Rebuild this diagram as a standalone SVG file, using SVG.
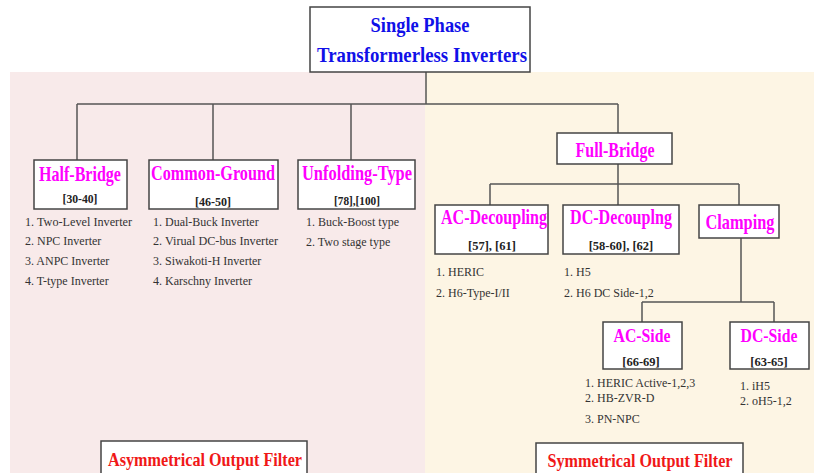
<svg xmlns="http://www.w3.org/2000/svg" width="814" height="473" viewBox="0 0 814 473">
<style>
.box{fill:#fff;stroke:#444;stroke-width:1.5}
.t{font-family:"Liberation Serif","Times New Roman",serif;font-weight:bold;fill:#f0f;font-size:21px;text-anchor:middle}
.s{font-size:19px}
.top{font-family:"Liberation Serif","Times New Roman",serif;font-weight:bold;fill:#1010e8;font-size:22px;text-anchor:middle}
.ref{font-family:"Liberation Serif","Times New Roman",serif;font-weight:bold;fill:#222;font-size:12.5px;text-anchor:middle}
.li{font-family:"Liberation Serif","Times New Roman",serif;fill:#333;font-size:12px}
.flt{font-family:"Liberation Serif","Times New Roman",serif;font-weight:bold;fill:#f01818;font-size:19px;text-anchor:middle}
.c{fill:none;stroke:#555;stroke-width:1.5}
</style>
<rect x="0" y="0" width="814" height="473" fill="#fff"/>
<rect x="10" y="72" width="415" height="401" fill="#f8eaea"/>
<rect x="425" y="72" width="389" height="401" fill="#fdf5e4"/>
<g id="connectors">
<path class="c" d="M426 72V104M77 104H618M77 104V160M213 104V160M351 104V160M618 104V133"/>
<path class="c" d="M618 164V184M490 184H739M490 184V205M618 184V205M739 184V205"/>
<path class="c" d="M741 238V302M642 302H774M642 302V322M774 302V322"/>
</g>
<g id="root">
<rect class="box" x="310" y="7" width="220" height="65"/>
<text class="top" x="420" y="32" textLength="99" lengthAdjust="spacingAndGlyphs">Single Phase</text>
<text class="top" x="422" y="62" textLength="210" lengthAdjust="spacingAndGlyphs">Transformerless Inverters</text>
</g>
<g id="half-bridge">
<rect class="box" x="34" y="160" width="93" height="49"/>
<text class="t" x="80" y="181" textLength="82" lengthAdjust="spacingAndGlyphs">Half-Bridge</text>
<text class="ref" x="80" y="203" textLength="35" lengthAdjust="spacingAndGlyphs">[30-40]</text>
<text class="li" x="25" y="226" textLength="107" lengthAdjust="spacingAndGlyphs">1. Two-Level Inverter</text>
<text class="li" x="25" y="245">2. NPC Inverter</text>
<text class="li" x="25" y="265">3. ANPC Inverter</text>
<text class="li" x="25" y="285">4. T-type Inverter</text>
</g>
<g id="common-ground">
<rect class="box" x="149" y="160" width="129" height="49"/>
<text class="t" x="213" y="180" textLength="124" lengthAdjust="spacingAndGlyphs">Common-Ground</text>
<text class="ref" x="213" y="206" textLength="36" lengthAdjust="spacingAndGlyphs">[46-50]</text>
<text class="li" x="153" y="226">1. Dual-Buck Inverter</text>
<text class="li" x="153" y="245" textLength="125" lengthAdjust="spacingAndGlyphs">2. Virual DC-bus Inverter</text>
<text class="li" x="153" y="265">3. Siwakoti-H Inverter</text>
<text class="li" x="153" y="285">4. Karschny Inverter</text>
</g>
<g id="unfolding-type">
<rect class="box" x="298" y="160" width="117" height="49"/>
<text class="t" x="357" y="180" textLength="110" lengthAdjust="spacingAndGlyphs">Unfolding-Type</text>
<text class="ref" x="357" y="205" textLength="46" lengthAdjust="spacingAndGlyphs">[78],[100]</text>
<text class="li" x="306" y="226">1. Buck-Boost type</text>
<text class="li" x="306" y="246">2. Two stage type</text>
</g>
<g id="full-bridge">
<rect class="box" x="557" y="133" width="115" height="31"/>
<text class="t" x="615" y="157" textLength="79" lengthAdjust="spacingAndGlyphs">Full-Bridge</text>
</g>
<g id="ac-decoupling">
<rect class="box" x="435" y="205" width="113" height="49"/>
<text class="t" x="494" y="224" textLength="106" lengthAdjust="spacingAndGlyphs">AC-Decoupling</text>
<text class="ref" x="492" y="250">[57], [61]</text>
<text class="li" x="436" y="276">1. HERIC</text>
<text class="li" x="436" y="297">2. H6-Type-I/II</text>
</g>
<g id="dc-decoupling">
<rect class="box" x="563" y="205" width="116" height="49"/>
<text class="t" x="621" y="224" textLength="102" lengthAdjust="spacingAndGlyphs">DC-Decouplng</text>
<text class="ref" x="621" y="250">[58-60], [62]</text>
<text class="li" x="564" y="276">1. H5</text>
<text class="li" x="564" y="297">2. H6 DC Side-1,2</text>
</g>
<g id="clamping">
<rect class="box" x="699" y="205" width="80" height="33"/>
<text class="t" x="740" y="229" textLength="69" lengthAdjust="spacingAndGlyphs">Clamping</text>
</g>
<g id="ac-side">
<rect class="box" x="603" y="322" width="79" height="47"/>
<text class="t s" x="642" y="342" textLength="57" lengthAdjust="spacingAndGlyphs">AC-Side</text>
<text class="ref" x="641" y="366">[66-69]</text>
<text class="li" x="585" y="387">1. HERIC Active-1,2,3</text>
<text class="li" x="585" y="402">2. HB-ZVR-D</text>
<text class="li" x="585" y="423">3. PN-NPC</text>
</g>
<g id="dc-side">
<rect class="box" x="730" y="322" width="79" height="47"/>
<text class="t s" x="769" y="342" textLength="57" lengthAdjust="spacingAndGlyphs">DC-Side</text>
<text class="ref" x="769" y="366">[63-65]</text>
<text class="li" x="740" y="390">1. iH5</text>
<text class="li" x="740" y="405">2. oH5-1,2</text>
</g>
<g id="asymmetrical-filter">
<rect class="box" x="101" y="441" width="206" height="40"/>
<text class="flt" x="205" y="466" textLength="194" lengthAdjust="spacingAndGlyphs">Asymmetrical Output Filter</text>
</g>
<g id="symmetrical-filter">
<rect class="box" x="536" y="443" width="207" height="40"/>
<text class="flt" x="640" y="467" textLength="185" lengthAdjust="spacingAndGlyphs">Symmetrical Output Filter</text>
</g>
</svg>
